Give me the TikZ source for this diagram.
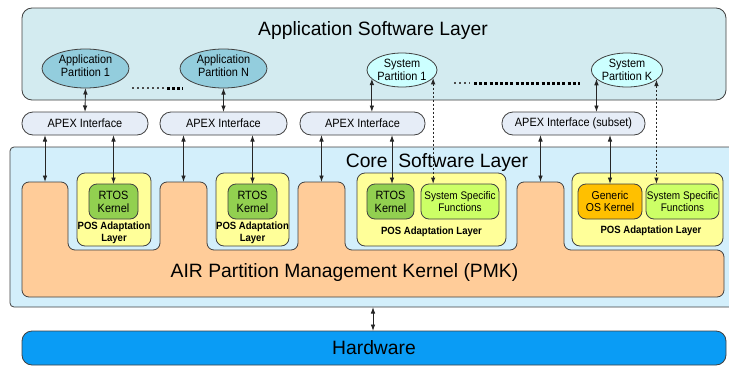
\documentclass[tikz,border=0pt]{standalone}
\usepackage{fontspec}
\setmainfont{Liberation Sans}
\newfontfamily\condfont[FakeStretch=0.91]{Liberation Sans}
\usetikzlibrary{arrows.meta,shapes.geometric}
\definecolor{appL}{HTML}{D3EBF0}
\definecolor{appE}{HTML}{93CDDD}
\definecolor{sysE}{HTML}{CCFFFF}
\definecolor{apexC}{HTML}{E6EDF7}
\definecolor{coreC}{HTML}{D3EFFB}
\definecolor{pmkC}{HTML}{FFCC99}
\definecolor{posC}{HTML}{FFFF99}
\definecolor{rtosC}{HTML}{92D050}
\definecolor{ssfC}{HTML}{CCFF66}
\definecolor{genC}{HTML}{FFC000}
\definecolor{hwC}{HTML}{0A9CF5}
\definecolor{edge}{HTML}{404040}
\begin{document}
\begin{tikzpicture}[x=1pt,y=-1pt,
  every node/.style={inner sep=0pt,outer sep=0pt},
  box/.style={draw=edge,line width=0.8pt},
  bigtxt/.style={font=\fontsize{19.3}{21}\selectfont},
  smalltxt/.style={font=\condfont\fontsize{12}{13}\selectfont,align=center},
  ssftxt/.style={font=\condfont\fontsize{11}{12}\selectfont,align=center},
  postxt/.style={font=\condfont\bfseries\fontsize{10.5}{12}\selectfont,align=center},
  appell/.style={box,ellipse,fill=appE,minimum width=87pt,minimum height=39pt},
  sysell/.style={box,ellipse,fill=sysE,minimum width=70pt,minimum height=34pt,smalltxt},
  apex/.style={box,rectangle,rounded corners=11pt,fill=apexC,minimum height=23pt,smalltxt},
  posbox/.style={box,rectangle,rounded corners=8pt,fill=posC,minimum height=73pt},
  inner/.style={box,rectangle,rounded corners=8pt,minimum height=35pt},
  conn/.style={line width=0.9pt,draw=black!85,{Latex[length=6.5pt,width=4.6pt]}-{Latex[length=6.5pt,width=4.6pt]}},
  dconn/.style={conn,line width=1.1pt,dash pattern=on 2.5pt off 1.5pt}
]
\useasboundingbox (0,0) rectangle (729,367);

% Application software layer
\node[box,rectangle,rounded corners=10pt,fill=appL,minimum width=704pt,minimum height=92pt] (app) at (374,54) {};
\node[bigtxt] (apptitle) at (373,31) {Application Software Layer};

\node[appell] (a1) at (85.5,68.5) {};
\node[smalltxt] (a1t) at (85.5,66) {Application\\Partition 1};
\node[appell] (aN) at (223.5,68.5) {};
\node[smalltxt] (aNt) at (223.5,66) {Application\\Partition N};
\node[sysell] (s1) at (402,70) {System\\Partition 1};
\node[sysell] (sK) at (627,70) {System\\Partition K};

% dots
\draw[line width=1.6pt,dash pattern=on 1.6pt off 3.4pt,draw=black!70] (132,88) -- (166,88);
\draw[line width=3pt,dash pattern=on 3pt off 2pt] (167,88) -- (183,88);
\draw[line width=1.6pt,dash pattern=on 1.6pt off 3.4pt,draw=black!70] (454,83) -- (470,83);
\draw[line width=3pt,dash pattern=on 3pt off 2.2pt] (474,83) -- (580,83);

% APEX interfaces
\node[apex,minimum width=126pt] (ap1) at (85,123.5) {APEX Interface};
\node[apex,minimum width=127pt] (ap2) at (223.5,123.5) {APEX Interface};
\node[apex,minimum width=125pt] (ap3) at (362.5,123.5) {APEX Interface};
\node[apex,minimum width=143pt] (ap4) at (573.5,123.5) {APEX Interface (subset)};

% Core software layer
\filldraw[draw=edge,line width=0.8pt,fill=coreC,rounded corners=4pt] (731,147) -- (10,147) -- (10,307) -- (731,307);
\node[bigtxt] (coretitle) at (437,163) {Core\ \ Software Layer};
\coordinate (coreb) at (373,307);

% PMK
\filldraw[draw=edge,line width=0.8pt,fill=pmkC,rounded corners=7pt]
  (22,297) -- (22,182) -- (68,182) -- (68,250) -- (160,250) -- (160,182) -- (207,182) -- (207,250)
  -- (298,250) -- (298,182) -- (345,182) -- (345,250) -- (517,250) -- (517,182) -- (564,182)
  -- (564,250) -- (724,250) -- (724,297) -- cycle;
\node[bigtxt] (pmktitle) at (344.5,272.5) {AIR Partition Management Kernel (PMK)};
\coordinate (tab1) at (45,182);
\coordinate (tab2) at (183.5,182);
\coordinate (tab3) at (321.5,182);
\coordinate (tab4) at (540.5,182);

% POS adaptation layers
\node[posbox,minimum width=74pt] (pos1) at (114,209.5) {};
\node[posbox,minimum width=73pt] (pos2) at (252.5,209.5) {};
\node[posbox,minimum width=149pt] (pos3) at (431.5,209.5) {};
\node[posbox,minimum width=151pt] (pos4) at (647.5,209.5) {};

\node[inner,fill=rtosC,minimum width=49pt,smalltxt] (r1) at (113.5,201.5) {RTOS\\Kernel};
\node[inner,fill=rtosC,minimum width=49pt,smalltxt] (r2) at (252.5,201.5) {RTOS\\Kernel};
\node[inner,fill=rtosC,minimum width=47pt,smalltxt] (r3) at (390.5,201.5) {RTOS\\Kernel};
\node[inner,fill=ssfC,minimum width=78pt,ssftxt] (f3) at (460,201.5) {System Specific\\Functions};
\node[inner,fill=genC,minimum width=64pt,font=\condfont\fontsize{11.5}{12.5}\selectfont,align=center] (g4) at (610,201.5) {Generic\\OS Kernel};
\node[inner,fill=ssfC,minimum width=73pt,ssftxt] (f4) at (682.5,201.5) {System Specific\\Functions};

\node[postxt] (p1t) at (114,233) {POS Adaptation\\Layer};
\node[postxt] (p2t) at (252.5,233) {POS Adaptation\\Layer};
\node[postxt] (p3t) at (431.5,232) {POS Adaptation Layer};
\node[postxt] (p4t) at (651,231) {POS Adaptation Layer};

% Hardware
\node[box,rectangle,rounded corners=10pt,fill=hwC,minimum width=704pt,minimum height=34pt] (hw) at (374,348) {};
\node[bigtxt] (hwt) at (374,348) {Hardware};

% connectors
\draw[conn] (a1.south) -- (ap1.north);
\draw[conn] (aN.south) -- (ap2.north);
\draw[conn] (s1.196) -- (s1.196 |- ap3.north);
\draw[conn] (sK.196) -- (sK.196 |- ap4.north);
\draw[dconn] (s1.346) -- (s1.346 |- f3.north);
\draw[dconn] (sK.342) -- (sK.342 |- f4.north);

\draw[conn] (tab1 |- ap1.south) -- (tab1);
\draw[conn] (r1.north |- ap1.south) -- (r1.north);
\draw[conn] (tab2 |- ap2.south) -- (tab2);
\draw[conn] (r2.north |- ap2.south) -- (r2.north);
\draw[conn] (tab3 |- ap3.south) -- (tab3);
\draw[conn] ([xshift=1.5pt]r3.north |- ap3.south) -- ([xshift=1.5pt]r3.north);
\draw[conn] (tab4 |- ap4.south) -- (tab4);
\draw[conn] (g4.north |- ap4.south) -- (g4.north);

\draw[conn] (coreb) -- (hw.north -| coreb);
\end{tikzpicture}
\end{document}
